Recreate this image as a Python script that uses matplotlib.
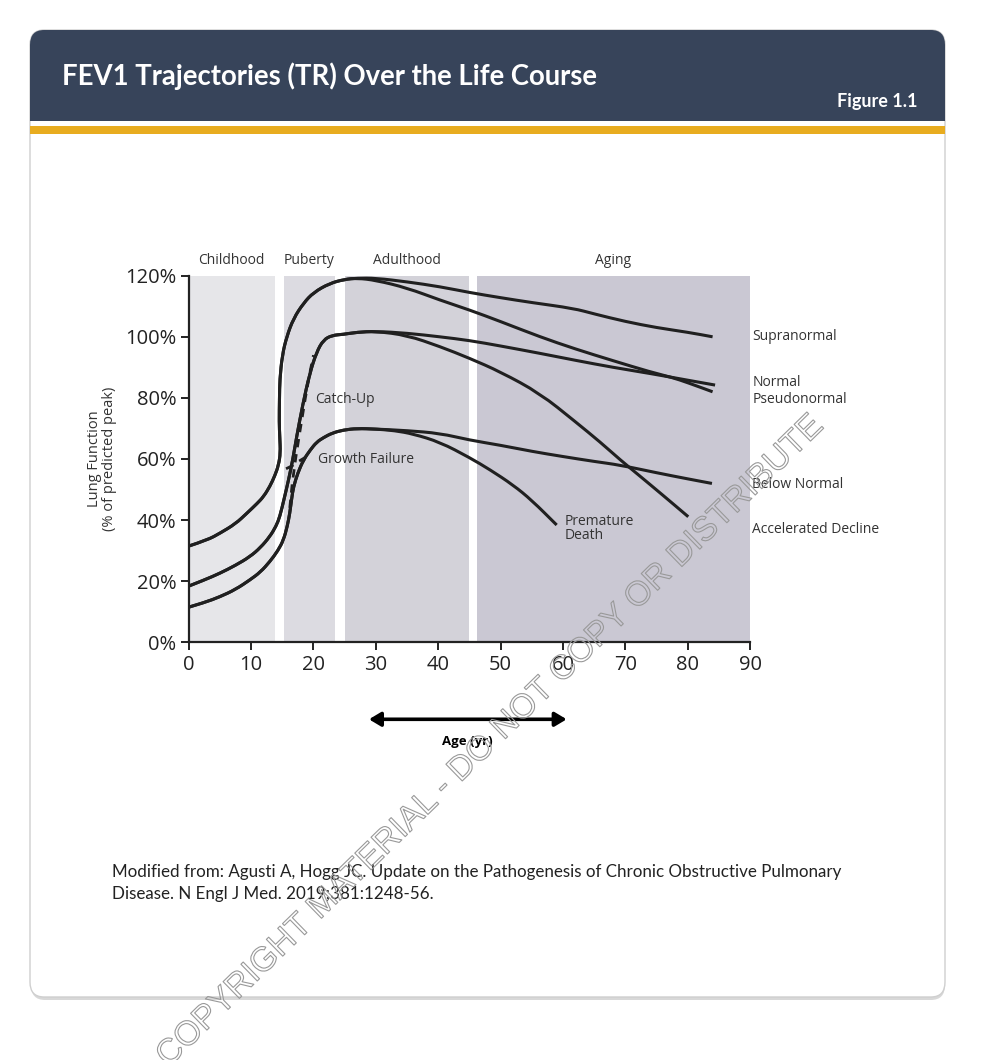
import matplotlib
matplotlib.use('Agg')
import matplotlib.pyplot as plt
from matplotlib.patches import FancyBboxPatch, Rectangle, PathPatch
from matplotlib.path import Path
import matplotlib.patheffects as pe

# ---- data (age in years, lung function in % of predicted peak) ----
bands = [(0, 13.8), (15.2, 23.5), (25.0, 44.9), (46.2, 90)]
band_names = ['Childhood', 'Puberty', 'Adulthood', 'Aging']
band_colors = ['#e6e6e9', '#dcdbe1', '#d3d2d9', '#cac8d3']

# early growth, high start (~31%)
high_age = [0, 3, 5, 7.5, 9.3, 11, 12, 13, 13.8, 14.4, 14.7, 14.6, 14.5, 14.55, 14.6, 15.0, 15.7, 16.8, 18.4, 20, 22.6, 25, 27]
high_val = [31.5, 33.5, 35.7, 38.8, 42.2, 45.5, 47.7, 51, 54.5, 58, 62, 67, 72, 80, 86, 94, 100, 106, 111, 114.5, 117.5, 118.8, 119.2]

# early growth, normal start (~18%)
mid_age = [0, 2.5, 5, 7.5, 9.8, 11.5, 13, 14, 14.6, 15.3, 16, 16.7, 17.3, 18.3, 19.4, 20.5, 21.6, 23, 24.8, 27]
mid_val = [18.4, 20.4, 22.6, 25.2, 28, 31, 34.6, 38, 41.1, 47, 53.1, 60, 67.3, 78, 88, 95, 99, 100.5, 100.8, 101.5]

# early growth, low start (~11%)
low_age = [0, 2.5, 5, 7.5, 9.8, 11.5, 13, 14.3, 15.2, 15.8, 16.2, 16.5, 16.8, 17.5, 18.4, 19.5, 20.5, 21.6, 23, 24.8, 27]
low_val = [11.5, 13, 14.9, 17.3, 20.4, 23, 26.4, 30, 33.5, 38, 42.2, 47, 50.9, 55.5, 59.7, 63, 65.5, 67, 68.5, 69.5, 70]

# adult / aging tails
supra_age = [30, 35, 40.3, 45, 50, 55, 61.7, 65, 70, 75, 80, 84]
supra_val = [119.2, 118, 116.4, 114.5, 112.8, 111.2, 109.3, 107.5, 105, 103, 101.5, 100]
pseudo_age = [30, 35, 40.3, 45, 50, 56.3, 62, 68, 74, 77.5, 80, 84]
pseudo_val = [118.5, 116, 112, 108.8, 105, 100, 96, 92.2, 88.5, 86.7, 85, 82]
normal_age = [30, 35, 40.3, 45, 50, 56.3, 62, 68, 74, 80, 84.4]
normal_val = [101.8, 101.2, 100, 98.8, 97, 94.6, 92.3, 90, 88, 85.8, 84.2]
accel_age = [30, 35, 40.3, 45, 50, 56.3, 62, 66, 69.2, 72, 76, 80.1]
accel_val = [101.8, 100.5, 96.8, 93, 88.5, 81.5, 72.2, 65.5, 59.7, 55, 48.2, 41.1]
below_age = [30, 35, 40.3, 45, 50, 55, 60, 65, 69.2, 75, 80, 83.9]
below_val = [69.8, 69.3, 68.4, 66.2, 64.5, 62.5, 60.8, 59.2, 58, 55.5, 53.5, 52]
prem_age = [30, 33, 36, 40.3, 45, 48.3, 52, 55, 59]
prem_val = [69.8, 69.3, 68.2, 65.5, 60.5, 56.5, 51.5, 46.5, 38.4]

# dashed side-paths
catchup_age = [16.2, 16.6, 17.2, 17.9, 18.7, 19.4, 20.0]
catchup_val = [44, 52, 61, 70, 80, 88, 94]
failure_age = [15.6, 16.6, 17.6, 18.5, 19.4]
failure_val = [56.8, 57.8, 59.2, 60.3, 61.6]

end_labels = ['Supranormal', 'Normal', 'Pseudonormal', 'Below Normal', 'Accelerated Decline']
end_label_y = [100, 85, 79.4, 51.5, 37]

line_col = '#202020'
font_main = ['Open Sans', 'DejaVu Sans']

fig = plt.figure(figsize=(10.05, 10.6), dpi=100)
fig.patch.set_facecolor('white')

# ---- card with header ----
def fx(px):
    return px / 1005

def fy(py):
    return 1 - py / 1060

shadow = FancyBboxPatch((fx(31), fy(1000)), fx(945) - fx(31), fy(33) - fy(1000),
                        boxstyle='round,pad=0,rounding_size=0.014', transform=fig.transFigure,
                        facecolor='#d8d8d8', edgecolor='none', zorder=0)
card = FancyBboxPatch((fx(30), fy(997)), fx(945) - fx(30), fy(30) - fy(997),
                      boxstyle='round,pad=0,rounding_size=0.014', transform=fig.transFigure,
                      facecolor='white', edgecolor='#cfcfcf', lw=1, zorder=1)
header = FancyBboxPatch((fx(30), fy(121)), fx(945) - fx(30), fy(30) - fy(121),
                        boxstyle='round,pad=0,rounding_size=0.014', transform=fig.transFigure,
                        facecolor='#37445a', edgecolor='none', zorder=2)
header_sq = Rectangle((fx(30), fy(121)), fx(945) - fx(30), fy(70) - fy(121),
                      transform=fig.transFigure, facecolor='#37445a', edgecolor='none', zorder=2)
gold = Rectangle((fx(30), fy(134)), fx(945) - fx(30), fy(126) - fy(134),
                 transform=fig.transFigure, facecolor='#e8ac1f', edgecolor='none', zorder=2)
for p in [shadow, card, header, header_sq, gold]:
    fig.patches.append(p)

fig.text(fx(62), fy(76), 'FEV1 Trajectories (TR) Over the Life Course', color='white',
         fontsize=19.8, fontweight='bold', family=['Lato', 'DejaVu Sans'], va='center', ha='left', zorder=3)
fig.text(fx(917), fy(101), 'Figure 1.1', color='white', fontsize=13, fontweight='bold',
         family=['Lato', 'DejaVu Sans'], va='center', ha='right', zorder=3)

# ---- chart ----
ax = fig.add_axes([fx(188.75), fy(642.3), fx(750) - fx(188.75), fy(275.7) - fy(642.3)])
ax.set_zorder(3)
ax.patch.set_alpha(0)
ax.set_xlim(0, 90)
ax.set_ylim(0, 120)

for (a, b), c, name in zip(bands, band_colors, band_names):
    ax.axvspan(a, b, color=c, lw=0, zorder=0)
    ax.text((a + b) / 2, 122.5, name, ha='center', va='bottom', fontsize=10,
            color='#333333', family=font_main, clip_on=False)


def draw(xs, ys, **kw):
    # smooth polyline: read points used as quadratic control points
    pts = list(zip(xs, ys))
    verts = [pts[0]]
    codes = [Path.MOVETO]
    for i in range(1, len(pts) - 1):
        mid = ((pts[i][0] + pts[i + 1][0]) / 2, (pts[i][1] + pts[i + 1][1]) / 2)
        verts += [pts[i], mid]
        codes += [Path.CURVE3, Path.CURVE3]
    verts.append(pts[-1])
    codes.append(Path.LINETO)
    patch = PathPatch(Path(verts, codes), transform=ax.transData, fill=False,
                      edgecolor=line_col, capstyle='butt', joinstyle='round', zorder=3, **kw)
    ax.add_patch(patch)


draw(high_age + supra_age, high_val + supra_val, lw=2.2)
draw(high_age + pseudo_age, high_val + pseudo_val, lw=2.2)
draw(mid_age + normal_age, mid_val + normal_val, lw=2.2)
draw(mid_age + accel_age, mid_val + accel_val, lw=2.2)
draw(low_age + below_age, low_val + below_val, lw=2.2)
draw(low_age + prem_age, low_val + prem_val, lw=2.2)

ax.plot(catchup_age, catchup_val, color=line_col, lw=2, ls=(0, (3, 2.5)), zorder=3)
ax.plot(failure_age, failure_val, color=line_col, lw=2, ls=(0, (3, 2.5)), zorder=3)

ax.text(20.3, 79.5, 'Catch-Up', fontsize=10, color='#333333', family=font_main, va='center', ha='left')
ax.text(20.7, 59.7, 'Growth Failure', fontsize=10, color='#333333', family=font_main, va='center', ha='left')
ax.text(60.3, 37.2, 'Premature\nDeath', fontsize=10, color='#333333', family=font_main,
        va='center', ha='left', linespacing=0.95)

for lab, yv in zip(end_labels, end_label_y):
    ax.text(90.4, yv, lab, fontsize=10, color='#333333', family=font_main,
            va='center', ha='left', clip_on=False)

ax.spines['top'].set_visible(False)
ax.spines['right'].set_visible(False)
for s in ['left', 'bottom']:
    ax.spines[s].set_linewidth(1.6)
    ax.spines[s].set_color('#222222')
ax.set_xticks(range(0, 91, 10))
ax.set_yticks(range(0, 121, 20))
ax.set_yticklabels([f'{v}%' for v in range(0, 121, 20)])
ax.tick_params(direction='out', length=6, width=1.4, colors='#222222', labelsize=14.5, pad=3)
for t in ax.get_xticklabels() + ax.get_yticklabels():
    t.set_family(font_main)

ax.set_ylabel('Lung Function\n(% of predicted peak)', fontsize=10.5, family=font_main,
              color='#333333', labelpad=6, linespacing=0.95)

ax.annotate('', xy=(28.9, -25.2), xytext=(60.6, -25.2), xycoords='data', annotation_clip=False,
            arrowprops=dict(arrowstyle='<|-|>,head_length=0.7,head_width=0.42', lw=2.6, color='black',
                            shrinkA=0, shrinkB=0))
ax.text(44.7, -32.5, 'Age (yr)', fontsize=9.5, fontweight='bold', family=font_main,
        ha='center', va='center', clip_on=False)

# ---- footer ----
fig.text(fx(112), fy(872), 'Modified from: Agusti A, Hogg JC. Update on the Pathogenesis of Chronic Obstructive Pulmonary',
         fontsize=12.25, family=['Lato', 'DejaVu Sans'], color='#222222', va='center', ha='left', zorder=4)
fig.text(fx(112), fy(894), 'Disease. N Engl J Med. 2019;381:1248-56.',
         fontsize=12.25, family=['Lato', 'DejaVu Sans'], color='#222222', va='center', ha='left', zorder=4)

# ---- watermark ----
fig.text(fx(490), fy(742), 'COPYRIGHT MATERIAL - DO NOT COPY OR DISTRIBUTE', rotation=44.3,
         rotation_mode='anchor', ha='center', va='center', fontsize=24.5,
         family=['Liberation Sans', 'DejaVu Sans'], color='none', zorder=10,
         path_effects=[pe.Stroke(linewidth=0.8, foreground='#999999')])

fig.savefig('out.png', dpi=100)
